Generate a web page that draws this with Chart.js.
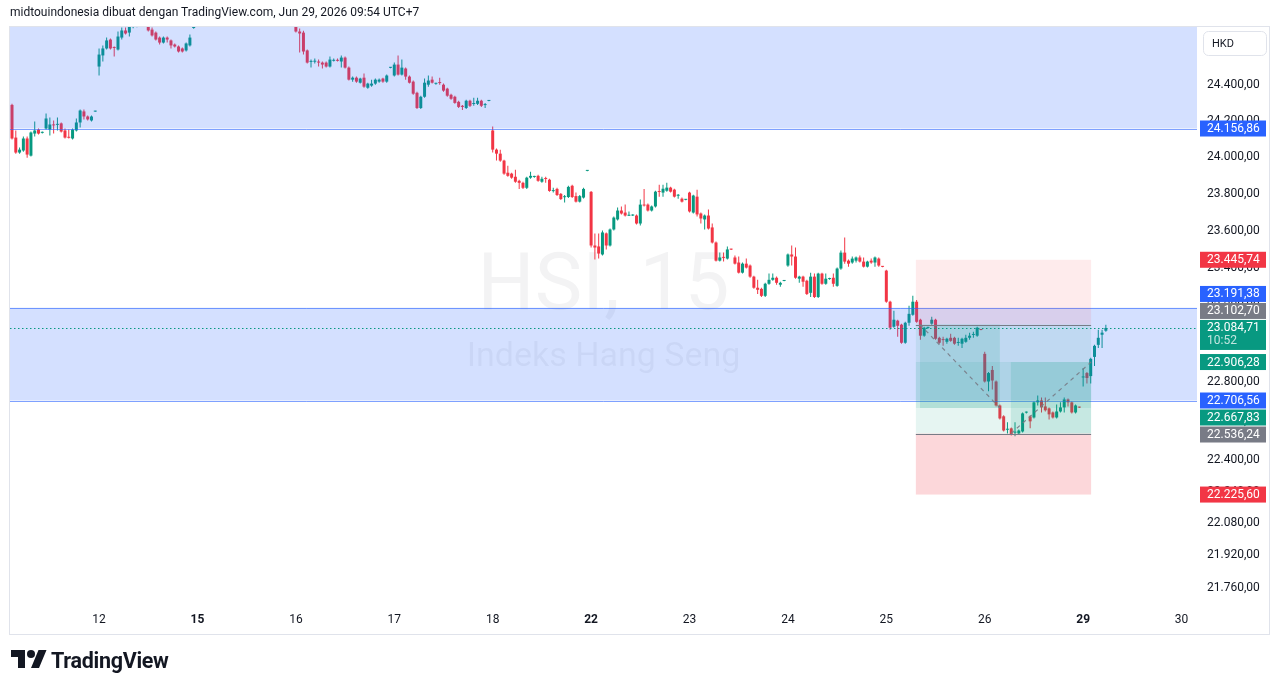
<!DOCTYPE html>
<html lang="id">
<head>
  <meta charset="UTF-8" />
  <title>HSI, 15 - Indeks Hang Seng</title>
  <script src="https://cdn.jsdelivr.net/npm/chart.js"></script>
  <style>
    body { margin: 0; background: #fff; font-family: Roboto, sans-serif; }
    .wrap { position: relative; width: 1281px; height: 688px; overflow: hidden; }
    #chart { position: absolute; left: 0; top: 0; }
    .title { position: absolute; left: 10px; top: 5px; font-size: 12px; color: #131722; white-space: nowrap; }
    .brand { position: absolute; left: 11px; top: 646px; display: flex; align-items: center; gap: 4px;
             font: 700 21.5px Roboto, sans-serif; letter-spacing: -0.3px; color: #131722; }
    .brand svg { display: block; }
  </style>
</head>
<body>
  <div class="wrap">
    <canvas id="chart" width="1281" height="688"></canvas>
    <div class="title">midtouindonesia dibuat dengan TradingView.com, Jun 29, 2026 09:54 UTC+7</div>
    <div class="brand">
      <svg width="36" height="28" viewBox="0 0 36 28"><path fill="#131722" d="M14 22H7V11H0V4h14v18zM28 22h-8l7.5-18h8L28 22z"/><circle fill="#131722" cx="20" cy="8" r="4"/></svg>
      <span>TradingView</span>
    </div>
  </div>

  <script>
    // x axis: one slot per 15 min bar, 26 slots per trading day
    const dayLabels = ['12', '15', '16', '17', '18', '22', '23', '24', '25', '26', '29', '30'];
    const dayStarts = [23, 49, 75, 101, 127, 153, 179, 205, 231, 257, 283, 309];
    const boldDays = ['15', '22', '29'];
    const priceTicks = [24400, 24200, 24000, 23800, 23600, 23400, 23200, 23000, 22800, 22600, 22400, 22240, 22080, 21920, 21760];

    // HSI 15m candles (day 11 partial ... day 29 partial)
    const open = [
      24287,24107,24025,24036,24102,24008,24129,24151,24133,24157,24151,24179,24177,24185,24146,24108,24102,24146,24190,24251,24223,24201,24250,
      24500,24562,24601,24651,24607,24595,24662,24702,24690,24722,24726,24730,24760,24735,24707,24690,24662,24634,24662,24646,24623,24612,24601,24590,24618,24716,
      24750,24795,24830,24815,24845,24880,24860,24840,24865,24900,24885,24855,24875,24870,24850,24830,24855,24845,24825,24840,24860,24850,24835,24845,24865,24855,
      24740,24696,24690,24590,24526,24527,24528,24522,24522,24500,24532,24535,24528,24550,24494,24427,24438,24410,24438,24382,24394,24405,24416,24433,24416,24493,
      24450,24511,24455,24489,24444,24416,24354,24270,24332,24399,24427,24404,24412,24399,24377,24343,24332,24304,24282,24270,24310,24292,24293,24310,24286,24309,
      24146,24041,24019,23981,23915,23910,23893,23871,23860,23833,23888,23892,23898,23866,23884,23877,23815,23827,23800,23782,23783,23844,23788,23758,23780,23925,
      23811,23522,23517,23474,23587,23522,23608,23662,23710,23699,23682,23683,23683,23640,23742,23742,23710,23732,23813,23807,23817,23834,23823,23790,23774,23768,
      23807,23699,23785,23694,23662,23683,23619,23538,23441,23459,23452,23502,23458,23431,23377,23425,23415,23356,23297,23291,23254,23318,23339,23350,23313,23333,
      23415,23474,23463,23345,23356,23334,23270,23356,23248,23372,23318,23343,23350,23307,23399,23484,23441,23431,23441,23458,23436,23409,23441,23431,23452,23410,
      23388,23223,23091,23123,23102,23007,23112,23154,23223,23128,23044,23085,23107,23128,23033,23024,23012,23033,23033,23006,23002,23012,23033,23048,23044,23076,
      22949,22805,22865,22805,22681,22625,22556,22563,22541,22537,22547,22644,22625,22619,22697,22707,22676,22666,22645,22619,22650,22671,22712,22697,22645,22672,
      22826,22849,22833,22933,22996,23049,23070
    ];
    const high = [
      24293,24146,24052,24113,24113,24140,24196,24157,24140,24240,24218,24201,24218,24190,24157,24151,24157,24212,24262,24262,24229,24229,24253,
      24601,24618,24662,24657,24612,24696,24718,24718,24730,24740,24745,24775,24780,24750,24718,24696,24668,24668,24668,24651,24629,24618,24606,24634,24679,24722,
      24810,24840,24860,24850,24890,24900,24875,24870,24910,24920,24895,24880,24890,24885,24865,24860,24875,24860,24850,24870,24880,24865,24855,24870,24880,24860,
      24760,24713,24700,24595,24539,24545,24539,24528,24528,24556,24545,24545,24562,24556,24500,24444,24444,24438,24461,24410,24427,24433,24433,24438,24455,24497,
      24522,24562,24539,24494,24450,24422,24360,24338,24433,24450,24444,24410,24438,24405,24382,24349,24338,24310,24287,24315,24315,24326,24326,24315,24298,24313,
      24168,24047,24041,23986,23953,23915,23931,23877,23866,23893,23920,23898,23904,23893,23893,23882,23833,23833,23805,23794,23844,23849,23807,23794,23833,23929,
      23816,23587,23587,23603,23592,23613,23678,23726,23732,23742,23705,23690,23689,23769,23827,23748,23737,23817,23850,23850,23860,23839,23828,23800,23780,23772,
      23812,23796,23823,23699,23689,23715,23640,23543,23484,23484,23517,23504,23468,23463,23431,23452,23420,23361,23339,23297,23323,23372,23372,23356,23329,23337,
      23479,23522,23511,23361,23361,23339,23377,23372,23377,23377,23372,23350,23372,23404,23495,23565,23447,23463,23463,23468,23458,23441,23452,23463,23458,23412,
      23393,23228,23175,23128,23107,23117,23202,23254,23232,23133,23091,23091,23144,23133,23038,23038,23033,23054,23038,23033,23033,23049,23060,23065,23091,23078,
      22960,22854,22886,22810,22686,22630,22594,22568,22594,22557,22645,22650,22630,22702,22733,22722,22722,22671,22650,22686,22697,22722,22717,22702,22686,22674,
      22875,22854,22928,22996,23075,23075,23102
    ];
    const low = [
      24096,24019,24019,24030,23997,24003,24113,24124,24130,24151,24118,24129,24146,24135,24102,24102,24096,24140,24162,24207,24201,24196,24249,
      24450,24528,24595,24595,24556,24590,24651,24679,24668,24715,24720,24725,24735,24696,24668,24646,24623,24629,24634,24601,24606,24578,24578,24584,24612,24712,
      24740,24780,24805,24800,24835,24850,24830,24825,24855,24875,24850,24840,24860,24845,24820,24825,24840,24815,24810,24835,24845,24830,24820,24840,24850,24850,
      24690,24578,24567,24517,24494,24517,24500,24489,24494,24494,24528,24528,24494,24489,24422,24416,24410,24405,24382,24377,24388,24399,24410,24410,24410,24491,
      24444,24450,24450,24427,24405,24343,24265,24265,24326,24388,24405,24399,24399,24360,24332,24315,24293,24270,24259,24265,24276,24282,24287,24276,24270,24307,
      24025,23981,23975,23904,23893,23882,23860,23827,23827,23827,23882,23888,23866,23860,23860,23811,23807,23788,23767,23753,23778,23778,23753,23753,23775,23923,
      23511,23447,23452,23468,23501,23517,23603,23656,23689,23678,23680,23680,23635,23630,23732,23705,23705,23726,23785,23785,23812,23807,23780,23774,23753,23766,
      23699,23694,23678,23640,23608,23608,23533,23436,23436,23436,23447,23498,23420,23372,23372,23399,23350,23291,23264,23248,23248,23313,23334,23313,23302,23331,
      23409,23415,23345,23323,23302,23259,23248,23243,23243,23313,23313,23339,23302,23302,23393,23425,23409,23425,23431,23431,23404,23404,23425,23409,23409,23406,
      23217,23075,23086,23038,23002,23002,23096,23149,23112,23023,23038,23081,23102,23023,23002,22991,23002,23012,22996,22991,22980,23007,23023,23033,23038,23072,
      22800,22754,22764,22676,22609,22547,22537,22527,22522,22532,22542,22640,22563,22614,22681,22645,22650,22609,22614,22614,22645,22645,22676,22640,22640,22668,
      22779,22795,22795,22886,22980,22980,23065
    ];
    const close = [
      24102,24025,24041,24102,24014,24135,24146,24129,24136,24212,24179,24174,24180,24140,24107,24106,24151,24190,24256,24223,24207,24223,24252,
      24567,24601,24646,24601,24604,24668,24702,24685,24724,24727,24728,24760,24750,24702,24674,24651,24634,24662,24651,24618,24612,24584,24584,24629,24662,24718,
      24795,24830,24815,24845,24880,24860,24840,24865,24900,24885,24855,24875,24870,24850,24830,24855,24845,24825,24840,24860,24850,24835,24845,24865,24855,24852,
      24696,24685,24584,24522,24529,24530,24522,24511,24500,24539,24535,24532,24550,24494,24427,24438,24416,24433,24388,24405,24405,24427,24427,24416,24450,24495,
      24511,24455,24494,24444,24410,24349,24270,24332,24410,24422,24410,24406,24408,24366,24338,24321,24298,24276,24276,24310,24282,24295,24310,24282,24289,24311,
      24041,24019,23981,23910,23898,23888,23866,23860,23833,23888,23898,23894,23871,23882,23881,23816,23818,23794,23772,23785,23838,23783,23758,23788,23827,23927,
      23522,23511,23479,23592,23522,23608,23672,23710,23694,23683,23685,23686,23640,23742,23737,23710,23732,23812,23810,23828,23834,23812,23785,23792,23758,23770,
      23705,23791,23689,23667,23683,23613,23538,23441,23458,23456,23501,23500,23425,23377,23425,23404,23356,23297,23286,23254,23318,23339,23350,23323,23323,23335,
      23474,23463,23350,23356,23329,23264,23356,23248,23372,23318,23345,23346,23318,23399,23484,23436,23425,23452,23458,23436,23409,23436,23431,23458,23415,23408,
      23223,23086,23128,23096,23007,23112,23159,23223,23117,23044,23086,23087,23128,23028,23007,23021,23028,23017,23002,23009,23028,23033,23044,23050,23086,23074,
      22805,22849,22810,22681,22614,22552,22559,22532,22544,22552,22640,22646,22599,22697,22707,22671,22656,22635,22619,22650,22671,22712,22697,22645,22681,22670,
      22830,22823,22923,22991,23033,23060,23084.71
    ];

    // drawings
    const bandLow = [24156.86, 22706.56];
    const bandHigh = [24950.00, 23191.38];
    const toolFrom = [238.8, 238.8];
    const toolTo = [285.1, 285.1];
    const toolEntry = [23102.70, 22536.24];
    const toolStop = [23445.74, 22225.60];
    const toolTarget = [22667.83, 22906.28];
    const hitFrom = [239.9, 263.9];
    const hitTo = [261.0, 285.1];
    const lastPrice = 23084.71;
    const countdown = '10:52';

    // price axis labels
    const labelPrices = [24156.86, 23445.74, 23191.38, 23102.70, 23084.71, 22906.28, 22706.56, 22667.83, 22536.24, 22225.60];
    const labelColors = ['#2962FF', '#F23645', '#2962FF', '#787B86', '#089981', '#089981', '#2962FF', '#089981', '#787B86', '#F23645'];

    const UP = '#089981', DOWN = '#F23645';
    const candleColors = open.map((o, i) => close[i] >= o ? UP : DOWN);

    function fmt(v) {
      const [a, b] = v.toFixed(2).split('.');
      return a.replace(/\B(?=(\d{3})+(?!\d))/g, '.') + ',' + b;
    }

    const watermark = {
      id: 'watermark',
      beforeDatasetsDraw(chart) {
        const { ctx, chartArea: a } = chart;
        const cx = (a.left + a.right) / 2;
        ctx.save();
        ctx.fillStyle = 'rgba(19,23,34,0.05)';
        ctx.textAlign = 'center';
        ctx.textBaseline = 'middle';
        ctx.font = '80px Roboto';
        ctx.fillText('HSI, 15', cx, 289);
        ctx.font = '34px Roboto';
        ctx.fillText('Indeks Hang Seng', cx, 357);
        ctx.restore();
      }
    };

    const drawings = {
      id: 'drawings',
      afterDatasetsDraw(chart) {
        const { ctx, chartArea: a, scales } = chart;
        const xp = v => scales.x.getPixelForValue(v);
        const yp = v => scales.y.getPixelForValue(v);
        const box = (x1, x2, p1, p2, color) => {
          const ya = yp(p1), yb = yp(p2);
          ctx.fillStyle = color;
          ctx.fillRect(x1, Math.min(ya, yb), x2 - x1, Math.abs(yb - ya));
        };
        const hline = (x1, x2, p, color, dash) => {
          const y = Math.round(yp(p)) + 0.5;
          ctx.strokeStyle = color;
          ctx.lineWidth = 1;
          ctx.setLineDash(dash || []);
          ctx.beginPath(); ctx.moveTo(x1, y); ctx.lineTo(x2, y); ctx.stroke();
          ctx.setLineDash([]);
        };
        ctx.save();
        ctx.beginPath();
        ctx.rect(a.left, a.top, a.right - a.left, a.bottom - a.top);
        ctx.clip();

        // rectangles (support / resistance zones)
        bandLow.forEach((lo, k) => {
          box(a.left, a.right, lo, bandHigh[k], 'rgba(41,98,255,0.2)');
          hline(a.left, a.right, lo, 'rgba(41,98,255,0.6)');
          hline(a.left, a.right, bandHigh[k], 'rgba(41,98,255,0.6)');
        });

        // position tools
        toolEntry.forEach((entry, k) => {
          const x1 = xp(toolFrom[k]), x2 = xp(toolTo[k]);
          box(x1, x2, entry, toolStop[k], k === 0 ? 'rgba(242,54,69,0.1)' : 'rgba(242,54,69,0.2)');
          box(x1, x2, entry, toolTarget[k], 'rgba(8,153,129,0.1)');
        });
        toolEntry.forEach((entry, k) => {
          box(xp(hitFrom[k]), xp(hitTo[k]), entry, toolTarget[k], 'rgba(8,153,129,0.14)');
        });
        toolEntry.forEach((entry, k) => {
          hline(xp(toolFrom[k]), xp(toolTo[k]), entry, '#787B86');
          ctx.strokeStyle = 'rgba(120,123,134,0.9)';
          ctx.lineWidth = 1.2;
          ctx.setLineDash([4, 4]);
          ctx.beginPath();
          ctx.moveTo(xp(hitFrom[k]), yp(entry));
          ctx.lineTo(xp(hitTo[k]), yp(toolTarget[k]));
          ctx.stroke();
          ctx.setLineDash([]);
        });

        // last price line
        hline(a.left, a.right, lastPrice, UP, [1.5, 2.5]);
        ctx.restore();
      },
      afterDraw(chart) {
        const { ctx, chartArea: a, scales } = chart;
        const yp = v => scales.y.getPixelForValue(v);
        ctx.save();
        // frame
        ctx.strokeStyle = '#E0E3EB';
        ctx.lineWidth = 1;
        ctx.strokeRect(9.5, 26.5, 1260, 608);

        // HKD currency button
        ctx.beginPath();
        ctx.roundRect(1203.5, 31.5, 63, 24, 5);
        ctx.stroke();
        ctx.fillStyle = '#131722';
        ctx.font = '11px Roboto';
        ctx.textBaseline = 'middle';
        ctx.textAlign = 'left';
        ctx.fillText('HKD', 1212, 44);

        // price labels, stacked so they do not overlap
        const ys = labelPrices.map(yp);
        const anchor = labelPrices.indexOf(lastPrice);
        const tops = [], bottoms = [];
        tops[anchor] = ys[anchor] - 8; bottoms[anchor] = ys[anchor] + 22;
        for (let j = anchor - 1; j >= 0; j--) {
          ys[j] = Math.min(ys[j], tops[j + 1] - 9);
          tops[j] = ys[j] - 8; bottoms[j] = ys[j] + 8;
        }
        for (let j = anchor + 1; j < ys.length; j++) {
          ys[j] = Math.max(ys[j], bottoms[j - 1] + 9);
          tops[j] = ys[j] - 8; bottoms[j] = ys[j] + 8;
        }
        const bx = a.right + 3;
        labelPrices.forEach((p, j) => {
          ctx.fillStyle = labelColors[j];
          ctx.fillRect(bx, tops[j], 66, bottoms[j] - tops[j]);
          ctx.fillStyle = '#fff';
          ctx.font = '12px Roboto';
          ctx.fillText(fmt(p), bx + 7, ys[j] + 0.5);
          if (j === anchor) {
            ctx.fillStyle = 'rgba(255,255,255,0.75)';
            ctx.fillText(countdown, bx + 7, ys[j] + 13.5);
          }
        });
        ctx.restore();
      }
    };

    new Chart(document.getElementById('chart'), {
      type: 'bar',
      data: {
        datasets: [
          {
            label: 'wick',
            data: open.map((o, i) => ({ x: i, y: [low[i], high[i]] })),
            backgroundColor: candleColors,
            grouped: false,
            barPercentage: 1,
            maxBarThickness: 1,
            inflateAmount: 0,
            minBarLength: 1
          },
          {
            label: 'body',
            data: open.map((o, i) => ({ x: i, y: [o, close[i]] })),
            backgroundColor: candleColors,
            grouped: false,
            barPercentage: 1,
            maxBarThickness: 3,
            inflateAmount: 0,
            minBarLength: 1
          }
        ]
      },
      options: {
        responsive: false,
        animation: false,
        devicePixelRatio: 1,
        layout: { padding: { left: 10, right: 11, top: 27, bottom: 53 } },
        plugins: { legend: { display: false }, tooltip: { enabled: false } },
        scales: {
          x: {
            type: 'linear',
            offset: false,
            min: -0.53,
            max: 313.08,
            grid: { display: false, drawTicks: false },
            border: { display: false },
            afterBuildTicks: axis => { axis.ticks = dayStarts.map(v => ({ value: v })); },
            afterFit: axis => { axis.height = 34; },
            ticks: {
              autoSkip: false,
              maxRotation: 0,
              padding: 12,
              color: '#131722',
              callback: (v, i) => dayLabels[i],
              font: c => ({ family: 'Roboto', size: 12, weight: boldDays.includes(dayLabels[c.index]) ? '700' : '400' })
            }
          },
          y: {
            type: 'logarithmic',
            position: 'right',
            min: 21693.6,
            max: 24721.5,
            grid: { display: false, drawTicks: false },
            border: { display: false },
            afterBuildTicks: axis => { axis.ticks = priceTicks.map(v => ({ value: v })); },
            afterFit: axis => { axis.width = 73; },
            ticks: {
              autoSkip: false,
              padding: 10,
              color: '#131722',
              font: { family: 'Roboto', size: 12 },
              callback: v => fmt(v)
            }
          }
        }
      },
      plugins: [watermark, drawings]
    });
  </script>
</body>
</html>
